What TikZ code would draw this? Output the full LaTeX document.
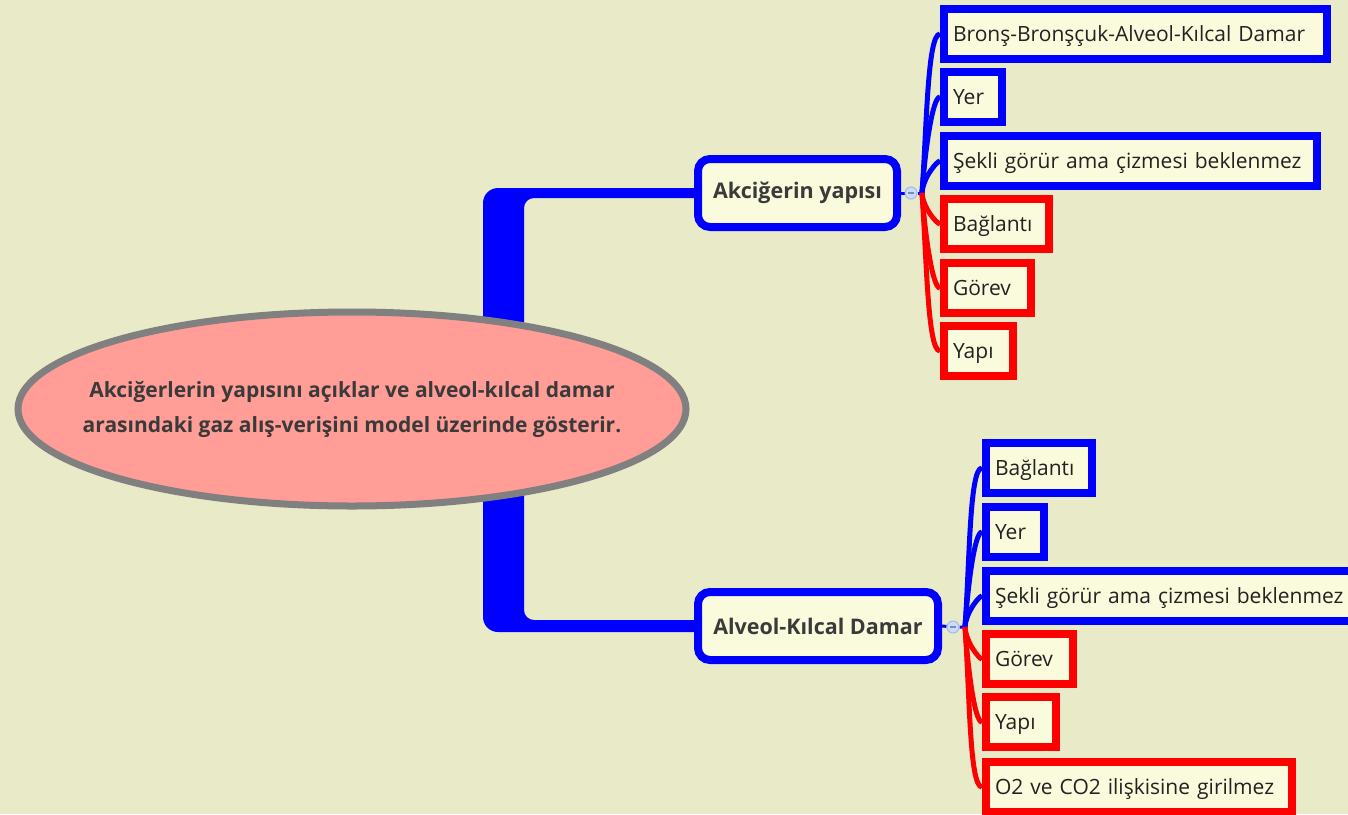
\documentclass[tikz,border=0pt]{standalone}
\usepackage{fontspec}
\setmainfont{Open Sans}
\usetikzlibrary{calc,shapes.geometric,backgrounds}
\definecolor{bg}{RGB}{233,234,200}
\definecolor{cream}{RGB}{250,250,220}
\definecolor{salmon}{RGB}{255,157,150}
\definecolor{rimgray}{RGB}{128,128,128}
\definecolor{ink}{RGB}{34,34,34}
\definecolor{titleink}{RGB}{58,58,58}
\definecolor{knobfill}{RGB}{204,219,250}
\definecolor{knobrim}{RGB}{160,185,240}
\definecolor{knobmark}{RGB}{120,140,190}
\definecolor{mblue}{RGB}{0,0,255}
\definecolor{mred}{RGB}{255,0,0}
\begin{document}
\begin{tikzpicture}[x=1pt,y=-1pt,
  leaf/.style={draw, line width=8pt, fill=cream, rectangle, anchor=west,
    minimum height=50pt, inner xsep=9pt, inner ysep=0pt,
    text height=16pt, text depth=2pt,
    font=\fontsize{21}{24}\selectfont, text=ink, align=left, text width=#1},
  bleaf/.style={leaf=#1, draw=mblue},
  rleaf/.style={leaf=#1, draw=mred},
  topic/.style={draw=mblue, line width=8pt, fill=cream, rounded corners=12pt,
    minimum height=68pt, inner sep=0pt,
    font=\bfseries\fontsize{21.5}{24}\selectfont, text=titleink},
  knob/.style={circle, draw=knobrim, line width=1pt, fill=knobfill, minimum size=12pt, inner sep=0pt,
    path picture={\draw[knobmark, line width=1.2pt] ([xshift=-3pt]path picture bounding box.center) -- ([xshift=3pt]path picture bounding box.center);}},
  bline/.style={draw=mblue, line width=5pt},
  rline/.style={draw=mred, line width=5pt},
  stem/.style={draw=mblue, line width=3pt}
]
\useasboundingbox (0,0) rectangle (1348,814);

% central ellipse
\node[ellipse, draw=rimgray, line width=7pt, fill=salmon, minimum width=668pt, minimum height=194pt,
  inner sep=0pt] (ell) at (352,409) {};
\node[align=center, text=titleink, font=\bfseries\fontsize{21}{35}\selectfont, inner sep=0pt]
  (elltext) at (ell.center) {Akciğerlerin yapısını açıklar ve alveol-kılcal damar\\arasındaki gaz alış-verişini model üzerinde gösterir.};

% topics
\node[topic, minimum width=199pt] (akc) at (797.5,193) {Akciğerin yapısı};
\node[topic, minimum width=240pt] (alv) at (818,626) {Alveol-Kılcal Damar};

% knobs
\node[knob] (k1) at (911,193) {};
\node[knob] (k2) at (953,627) {};
\coordinate (b1) at (922,193);
\coordinate (b2) at (965,627);

% top leaves
\node[bleaf=365pt] (t1) at (940,34)  {\mbox{Bronş-Bronşçuk-Alveol-Kılcal Damar}};
\node[bleaf=40pt]  (t2) at (940,97)  {\mbox{Yer}};
\node[bleaf=355pt] (t3) at (940,161) {\mbox{Şekli görür ama çizmesi beklenmez}};
\node[rleaf=87pt]  (t4) at (940,224) {\mbox{Bağlantı}};
\node[rleaf=69pt]  (t5) at (940,288) {\mbox{Görev}};
\node[rleaf=51pt]  (t6) at (940,351) {\mbox{Yapı}};

% bottom leaves
\node[bleaf=88pt]  (u1) at (982,468) {\mbox{Bağlantı}};
\node[bleaf=40pt]  (u2) at (982,532) {\mbox{Yer}};
\node[bleaf=355pt] (u3) at (982,596) {\mbox{Şekli görür ama çizmesi beklenmez}};
\node[rleaf=69pt]  (u4) at (982,659) {\mbox{Görev}};
\node[rleaf=52pt]  (u5) at (982,722) {\mbox{Yapı}};
\node[rleaf=288pt] (u6) at (982,787) {\mbox{O2 ve CO2 ilişkisine girilmez}};

\begin{scope}[on background layer]
  \fill[bg] (0,0) rectangle (1348,814);
  % trunk
  \fill[mblue] (483,409) -- (483,203) .. controls (483,194.7) and (489.7,188) .. (498,188)
    -- ($(akc.center)+(0,-5)$) -- ($(akc.center)+(0,5)$)
    -- (534,198) .. controls (528.5,198) and (524,202.5) .. (524,208) -- (524,409) -- cycle;
  \fill[mblue] (483,409) -- (483,617) .. controls (483,625.3) and (489.7,632) .. (498,632)
    -- ($(alv.center)+(0,6)$) -- ($(alv.center)+(0,-6)$)
    -- (534,620) .. controls (528.5,620) and (524,615.5) .. (524,610) -- (524,409) -- cycle;
  % stems
  \draw[stem] (akc.east) -- (k1) -- (b1);
  \draw[stem] (alv.east) -- (k2) -- (b2);
  % top connectors
  \foreach \t in {t1,t2,t3}
    \draw[bline] (b1) to[out=86,in=180,out looseness=1.1,in looseness=0.2] (\t.west);
  \foreach \t in {t4,t5,t6}
    \draw[rline] (b1) to[out=-86,in=180,out looseness=1.1,in looseness=0.2] (\t.west);
  % bottom connectors
  \foreach \t in {u1,u2,u3}
    \draw[bline] (b2) to[out=86,in=180,out looseness=1.1,in looseness=0.2] (\t.west);
  \foreach \t in {u4,u5,u6}
    \draw[rline] (b2) to[out=-86,in=180,out looseness=1.1,in looseness=0.2] (\t.west);
\end{scope}
\end{tikzpicture}
\end{document}
